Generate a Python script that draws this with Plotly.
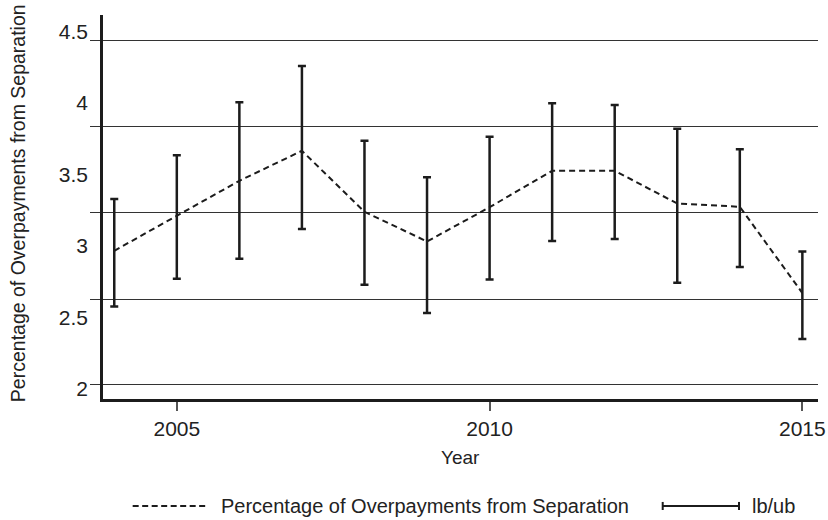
import plotly.graph_objects as go

years = [2004, 2005, 2006, 2007, 2008, 2009, 2010, 2011, 2012, 2013, 2014, 2015]
pct = [2.966, 3.211, 3.456, 3.666, 3.239, 3.031, 3.271, 3.526, 3.526, 3.297, 3.274, 2.670]
lb = [2.576, 2.770, 2.910, 3.118, 2.728, 2.530, 2.765, 3.034, 3.048, 2.742, 2.852, 2.348]
ub = [3.328, 3.635, 4.006, 4.260, 3.736, 3.481, 3.764, 3.999, 3.987, 3.820, 3.677, 2.961]

y_labels = [2, 2.5, 3, 3.5, 4, 4.5]
y_label_text = ["2", "2.5", "3", "3.5", "4", "4.5"]
grid_vals = [2.028, 2.628, 3.232, 3.836, 4.437]
x_ticks = [2005, 2010, 2015]

series_name = "Percentage of Overpayments from Separation"
bar_name = "lb/ub"
x_title = "Year"

INK = "#1c1c1c"
TXT = "#222"
FONT = "Liberation Sans, Arial, sans-serif"
yr = [1.928, 4.617]
xr = [2003.82, 2015.25]

fig = go.Figure()

fig.add_trace(go.Scatter(
    x=years, y=pct, mode="lines", name=series_name,
    line=dict(color=INK, width=2, dash="6px,4px"), showlegend=False,
))
fig.add_trace(go.Scatter(
    x=years, y=pct, mode="markers", name=bar_name,
    marker=dict(size=1, opacity=0),
    error_y=dict(type="data", symmetric=False,
                 array=[u - p for u, p in zip(ub, pct)],
                 arrayminus=[p - l for p, l in zip(pct, lb)],
                 color=INK, thickness=2.5, width=4),
    showlegend=False,
))
# carrier for the label axis
fig.add_trace(go.Scatter(x=[], y=[], yaxis="y2", showlegend=False, hoverinfo="skip"))

fig.update_layout(
    width=828, height=520,
    margin=dict(l=103, r=10, t=15, b=121),
    paper_bgcolor="white", plot_bgcolor="white",
    font=dict(family=FONT, color=TXT),
    xaxis=dict(
        range=xr, tickvals=x_ticks, ticks="outside", ticklen=9, tickwidth=1.5,
        tickcolor="#555", showline=True, linewidth=3, linecolor=INK,
        showgrid=False, zeroline=False, tickfont=dict(size=21, color=TXT),
        automargin=False,
    ),
    yaxis=dict(
        range=yr, tickvals=grid_vals, showticklabels=False,
        ticks="outside", ticklen=10, tickwidth=1.4, tickcolor="#333",
        showgrid=True, gridcolor="#333", gridwidth=1.4,
        showline=True, linewidth=2.5, linecolor=INK, zeroline=False,
        automargin=False,
    ),
    yaxis2=dict(
        range=yr, overlaying="y", side="left", tickvals=y_labels,
        ticktext=y_label_text, ticks="", showgrid=False, showline=False,
        zeroline=False, tickfont=dict(size=21, color=TXT),
        ticklabelstandoff=14, automargin=False,
    ),
)

# axis titles
fig.add_annotation(xref="paper", yref="paper", x=-0.1189, y=0.51, text=series_name,
                   textangle=-90, showarrow=False, xanchor="center", yanchor="middle",
                   font=dict(size=19.5, color=TXT))
fig.add_annotation(xref="paper", yref="paper", x=0.5, y=-0.1536, text=x_title,
                   showarrow=False, xanchor="center", yanchor="middle",
                   font=dict(size=19, color=TXT))

# manual legend
ly = -0.2786
fig.add_shape(type="line", xref="paper", yref="paper", x0=0.0415, x1=0.1473,
              y0=ly, y1=ly, line=dict(color=INK, width=2, dash="6px,3.5px"))
fig.add_annotation(xref="paper", yref="paper", x=0.162, y=ly, text=series_name,
                   showarrow=False, xanchor="left", yanchor="middle",
                   font=dict(size=20, color=TXT))
fig.add_shape(type="line", xref="paper", yref="paper", x0=0.7828, x1=0.8895,
              y0=ly, y1=ly, line=dict(color=INK, width=2))
for xe in (0.7828, 0.8895):
    fig.add_shape(type="line", xref="paper", yref="paper", x0=xe, x1=xe,
                  y0=ly - 0.0105, y1=ly + 0.0105, line=dict(color=INK, width=2))
fig.add_annotation(xref="paper", yref="paper", x=0.9049, y=ly, text=bar_name,
                   showarrow=False, xanchor="left", yanchor="middle",
                   font=dict(size=20, color=TXT))

fig.write_html("out.html", config={"displayModeBar": False},
               post_script="document.body.style.margin='0';")
